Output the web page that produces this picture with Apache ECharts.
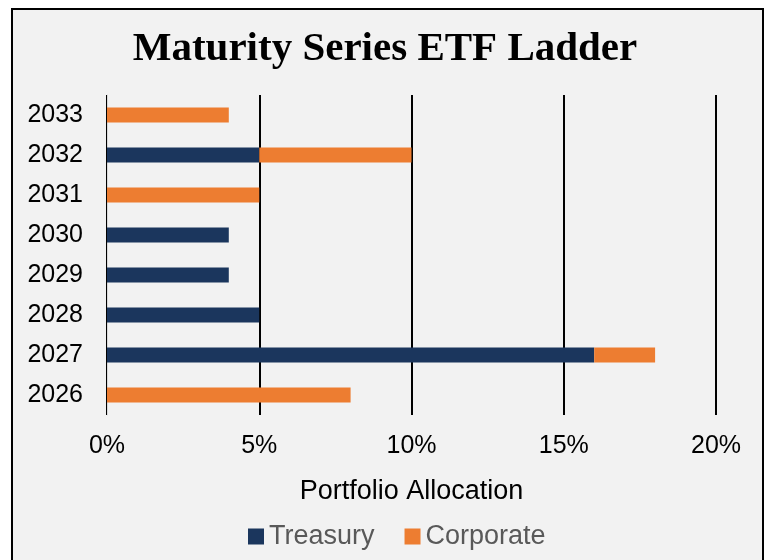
<!DOCTYPE html>
<html><head><meta charset="utf-8">
<script src="https://cdn.jsdelivr.net/npm/echarts@6/dist/echarts.min.js"></script>
<style>html,body{margin:0;padding:0;background:#fff}#c{width:770px;height:560px}</style>
</head><body><div id="c"></div>
<script>
const categories = ['2026','2027','2028','2029','2030','2031','2032','2033'];
const treasury = [0, 16, 5, 4, 4, 0, 5, 0];
const corporate = [8, 2, 0, 0, 0, 5, 5, 4];
const xTicks = [0, 5, 10, 15, 20];

const chart = echarts.init(document.getElementById('c'), null, {renderer: 'canvas'});
chart.setOption({
  backgroundColor: '#ffffff',
  animation: false,
  graphic: [{
    type: 'rect', z: -10, silent: true,
    shape: {x: 12, y: 9, width: 751, height: 560},
    style: {fill: '#f2f2f2', stroke: '#000', lineWidth: 2}
  }],
  title: {
    text: 'Maturity Series ETF Ladder',
    left: 'center', top: 24,
    textStyle: {fontFamily: 'Liberation Serif', fontWeight: 'bold', fontSize: 41, color: '#000'}
  },
  grid: {left: 107, right: 54, top: 95, bottom: 145},
  legend: {
    top: 518, left: 243,
    itemWidth: 16, itemHeight: 16, itemGap: 30, icon: 'rect',
    textStyle: {fontFamily: 'Liberation Sans', fontSize: 27, color: '#595959'},
    data: ['Treasury', 'Corporate']
  },
  xAxis: {
    type: 'value', min: xTicks[0], max: xTicks[xTicks.length - 1], interval: 5,
    name: 'Portfolio Allocation', nameLocation: 'middle', nameGap: 63,
    nameTextStyle: {fontFamily: 'Liberation Sans', fontSize: 27, color: '#000'},
    axisLabel: {formatter: v => v + '%', fontFamily: 'Liberation Sans', fontSize: 25, color: '#000', margin: 19},
    axisLine: {show: false}, axisTick: {show: false},
    splitLine: {show: true, lineStyle: {color: '#000', width: 2}}
  },
  yAxis: {
    type: 'category', data: categories,
    axisLabel: {fontFamily: 'Liberation Sans', fontSize: 25, color: '#000', margin: 24},
    axisLine: {show: true, lineStyle: {color: '#d9d9d9', width: 1}},
    axisTick: {show: false}
  },
  series: [
    {name: 'Treasury', type: 'bar', stack: 'a', data: treasury, barWidth: 15,
     itemStyle: {color: '#1b365d'}},
    {name: 'Corporate', type: 'bar', stack: 'a', data: corporate, barWidth: 15,
     itemStyle: {color: '#ed7d31'}}
  ]
});
</script></body></html>
